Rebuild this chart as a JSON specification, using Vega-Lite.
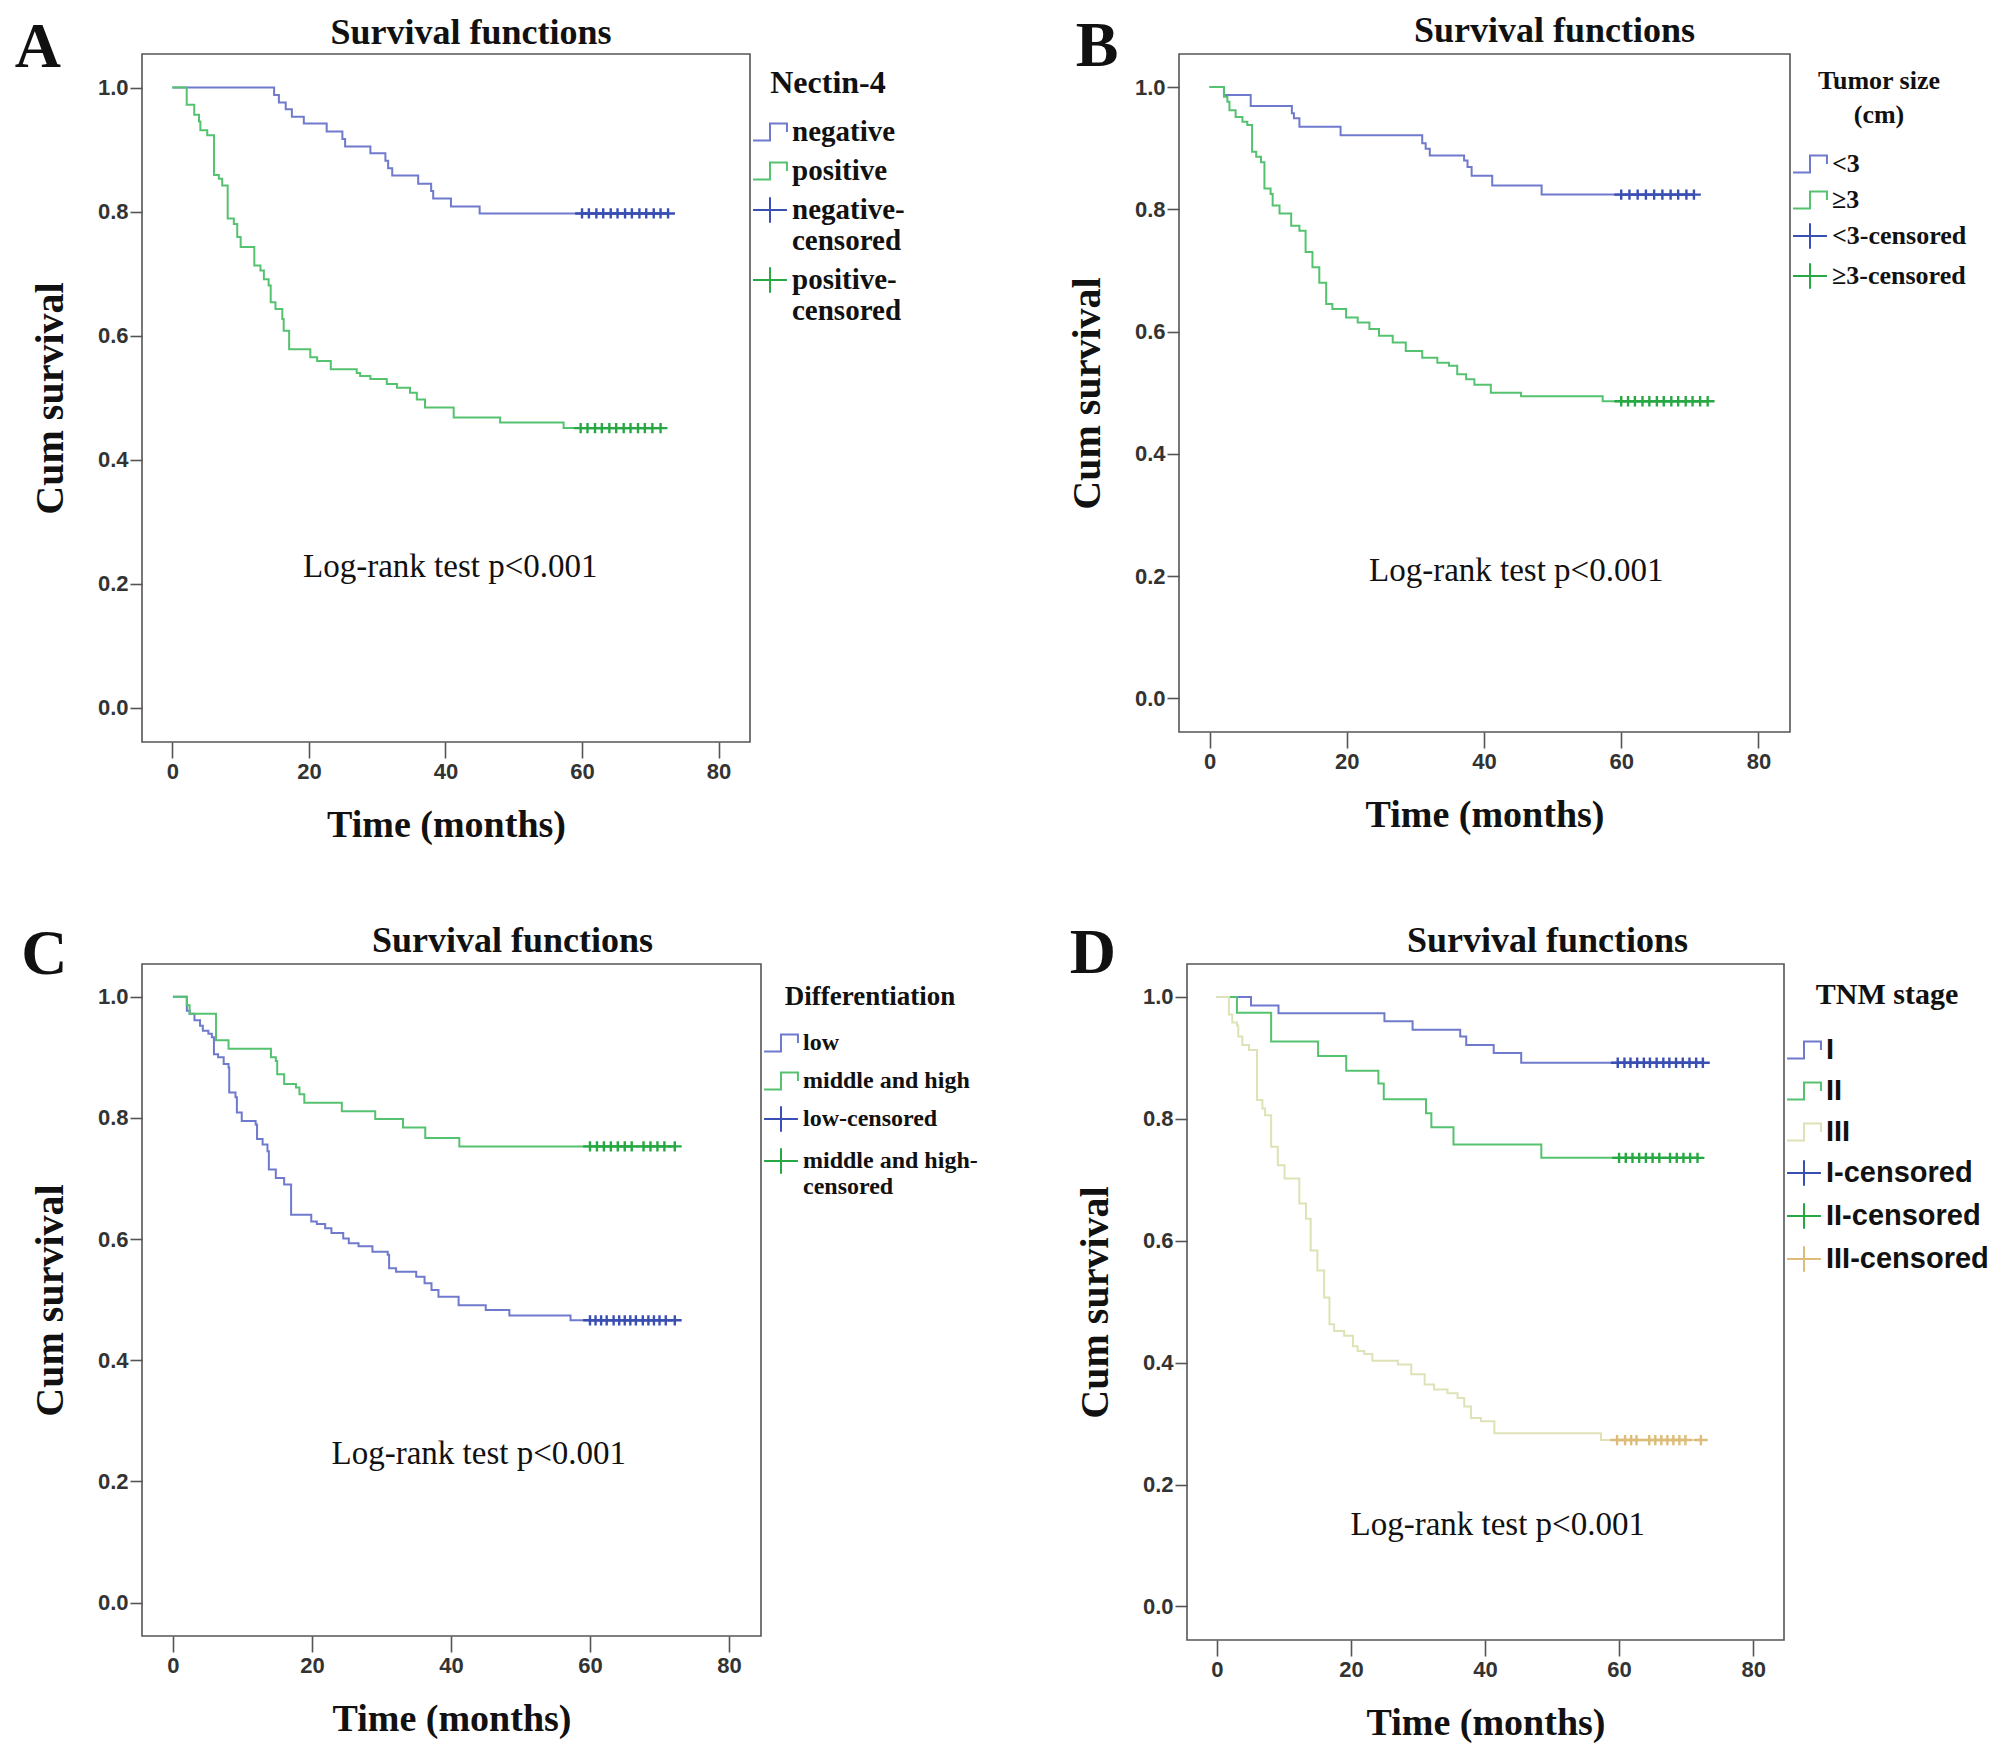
{
"$schema": "https://vega.github.io/schema/vega-lite/v6.json",
"background": "white",
"padding": {"left": 13, "top": 12, "right": 0, "bottom": 0},
"datasets": {
"A_line": [
{"t":0,"s":1,"lab":"negative"},{"t":14.9,"s":0.988,"lab":"negative"},{"t":15.6,"s":0.976,"lab":"negative"},{"t":16.6,"s":0.965,"lab":"negative"},{"t":17.5,"s":0.953,"lab":"negative"},{"t":19.25,"s":0.942,"lab":"negative"},{"t":22.6,"s":0.929,"lab":"negative"},{"t":24.9,"s":0.917,"lab":"negative"},{"t":25.3,"s":0.905,"lab":"negative"},{"t":29.0,"s":0.894,"lab":"negative"},{"t":31.2,"s":0.882,"lab":"negative"},{"t":31.6,"s":0.870,"lab":"negative"},{"t":32.2,"s":0.858,"lab":"negative"},{"t":36.0,"s":0.845,"lab":"negative"},{"t":37.9,"s":0.833,"lab":"negative"},{"t":38.2,"s":0.821,"lab":"negative"},{"t":40.8,"s":0.808,"lab":"negative"},{"t":45.0,"s":0.797,"lab":"negative"},{"t":72.6,"s":0.797,"lab":"negative"},
{"t":0,"s":1,"lab":"positive"},{"t":2.1,"s":0.972,"lab":"positive"},{"t":3.2,"s":0.956,"lab":"positive"},{"t":3.9,"s":0.945,"lab":"positive"},{"t":4.1,"s":0.931,"lab":"positive"},{"t":5.1,"s":0.923,"lab":"positive"},{"t":6.1,"s":0.859,"lab":"positive"},{"t":6.8,"s":0.853,"lab":"positive"},{"t":7.3,"s":0.842,"lab":"positive"},{"t":8.1,"s":0.789,"lab":"positive"},{"t":9.0,"s":0.780,"lab":"positive"},{"t":9.5,"s":0.759,"lab":"positive"},{"t":10.0,"s":0.743,"lab":"positive"},{"t":12.0,"s":0.713,"lab":"positive"},{"t":12.9,"s":0.705,"lab":"positive"},{"t":13.4,"s":0.691,"lab":"positive"},{"t":14.1,"s":0.681,"lab":"positive"},{"t":14.4,"s":0.654,"lab":"positive"},{"t":15.1,"s":0.643,"lab":"positive"},{"t":16.1,"s":0.627,"lab":"positive"},{"t":16.3,"s":0.608,"lab":"positive"},{"t":17.1,"s":0.578,"lab":"positive"},{"t":20.2,"s":0.565,"lab":"positive"},{"t":21.2,"s":0.559,"lab":"positive"},{"t":23.2,"s":0.546,"lab":"positive"},{"t":27.0,"s":0.540,"lab":"positive"},{"t":27.5,"s":0.535,"lab":"positive"},{"t":29.0,"s":0.530,"lab":"positive"},{"t":31.4,"s":0.522,"lab":"positive"},{"t":32.9,"s":0.516,"lab":"positive"},{"t":34.8,"s":0.508,"lab":"positive"},{"t":35.8,"s":0.497,"lab":"positive"},{"t":37.0,"s":0.484,"lab":"positive"},{"t":41.2,"s":0.468,"lab":"positive"},{"t":48.0,"s":0.460,"lab":"positive"},{"t":57.3,"s":0.451,"lab":"positive"},{"t":71.6,"s":0.451,"lab":"positive"}
],
"A_cens": [
{"t":60,"s":0.797,"lab":"negative-censored"},{"t":61,"s":0.797,"lab":"negative-censored"},{"t":62.1,"s":0.797,"lab":"negative-censored"},{"t":63.1,"s":0.797,"lab":"negative-censored"},{"t":64.2,"s":0.797,"lab":"negative-censored"},{"t":65.2,"s":0.797,"lab":"negative-censored"},{"t":66.3,"s":0.797,"lab":"negative-censored"},{"t":67.3,"s":0.797,"lab":"negative-censored"},{"t":68.4,"s":0.797,"lab":"negative-censored"},{"t":69.4,"s":0.797,"lab":"negative-censored"},{"t":70.5,"s":0.797,"lab":"negative-censored"},{"t":71.5,"s":0.797,"lab":"negative-censored"},{"t":72.6,"s":0.797,"lab":"negative-censored"},
{"t":59.8,"s":0.451,"lab":"positive-censored"},{"t":60.8,"s":0.451,"lab":"positive-censored"},{"t":61.9,"s":0.451,"lab":"positive-censored"},{"t":62.9,"s":0.451,"lab":"positive-censored"},{"t":64,"s":0.451,"lab":"positive-censored"},{"t":65,"s":0.451,"lab":"positive-censored"},{"t":66.1,"s":0.451,"lab":"positive-censored"},{"t":67.1,"s":0.451,"lab":"positive-censored"},{"t":68.2,"s":0.451,"lab":"positive-censored"},{"t":69.2,"s":0.451,"lab":"positive-censored"},{"t":70.3,"s":0.451,"lab":"positive-censored"},{"t":71.5,"s":0.451,"lab":"positive-censored"}
],
"B_line": [
{"t":0,"s":1,"lab":"<3"},{"t":2.1,"s":0.987,"lab":"<3"},{"t":6.0,"s":0.969,"lab":"<3"},{"t":12.0,"s":0.957,"lab":"<3"},{"t":12.3,"s":0.949,"lab":"<3"},{"t":13.1,"s":0.935,"lab":"<3"},{"t":19.1,"s":0.921,"lab":"<3"},{"t":31.0,"s":0.908,"lab":"<3"},{"t":31.5,"s":0.899,"lab":"<3"},{"t":32.1,"s":0.888,"lab":"<3"},{"t":37.1,"s":0.880,"lab":"<3"},{"t":37.6,"s":0.869,"lab":"<3"},{"t":38.2,"s":0.855,"lab":"<3"},{"t":41.2,"s":0.839,"lab":"<3"},{"t":48.4,"s":0.824,"lab":"<3"},{"t":70.6,"s":0.824,"lab":"<3"},
{"t":0,"s":1,"lab":"≥3"},{"t":2.1,"s":0.984,"lab":"≥3"},{"t":2.6,"s":0.976,"lab":"≥3"},{"t":2.9,"s":0.962,"lab":"≥3"},{"t":3.8,"s":0.951,"lab":"≥3"},{"t":4.8,"s":0.943,"lab":"≥3"},{"t":5.5,"s":0.938,"lab":"≥3"},{"t":6.2,"s":0.894,"lab":"≥3"},{"t":6.8,"s":0.886,"lab":"≥3"},{"t":7.5,"s":0.877,"lab":"≥3"},{"t":8.0,"s":0.834,"lab":"≥3"},{"t":8.9,"s":0.825,"lab":"≥3"},{"t":9.2,"s":0.806,"lab":"≥3"},{"t":10.2,"s":0.793,"lab":"≥3"},{"t":11.9,"s":0.773,"lab":"≥3"},{"t":13.1,"s":0.765,"lab":"≥3"},{"t":14.0,"s":0.730,"lab":"≥3"},{"t":15.0,"s":0.705,"lab":"≥3"},{"t":16.0,"s":0.680,"lab":"≥3"},{"t":17.0,"s":0.645,"lab":"≥3"},{"t":17.9,"s":0.637,"lab":"≥3"},{"t":19.9,"s":0.623,"lab":"≥3"},{"t":21.6,"s":0.615,"lab":"≥3"},{"t":23.3,"s":0.604,"lab":"≥3"},{"t":24.7,"s":0.593,"lab":"≥3"},{"t":26.7,"s":0.582,"lab":"≥3"},{"t":28.6,"s":0.568,"lab":"≥3"},{"t":31.0,"s":0.557,"lab":"≥3"},{"t":33.2,"s":0.549,"lab":"≥3"},{"t":34.9,"s":0.544,"lab":"≥3"},{"t":36.1,"s":0.530,"lab":"≥3"},{"t":37.4,"s":0.522,"lab":"≥3"},{"t":38.6,"s":0.513,"lab":"≥3"},{"t":41.0,"s":0.500,"lab":"≥3"},{"t":45.4,"s":0.494,"lab":"≥3"},{"t":57.3,"s":0.486,"lab":"≥3"},{"t":72.6,"s":0.486,"lab":"≥3"}
],
"B_cens": [
{"t":60,"s":0.824,"lab":"<3-censored"},{"t":61.2,"s":0.824,"lab":"<3-censored"},{"t":62.4,"s":0.824,"lab":"<3-censored"},{"t":63.6,"s":0.824,"lab":"<3-censored"},{"t":64.8,"s":0.824,"lab":"<3-censored"},{"t":66,"s":0.824,"lab":"<3-censored"},{"t":67.2,"s":0.824,"lab":"<3-censored"},{"t":68.3,"s":0.824,"lab":"<3-censored"},{"t":69.5,"s":0.824,"lab":"<3-censored"},{"t":70.6,"s":0.824,"lab":"<3-censored"},
{"t":60,"s":0.486,"lab":"≥3-censored"},{"t":61,"s":0.486,"lab":"≥3-censored"},{"t":62,"s":0.486,"lab":"≥3-censored"},{"t":63.1,"s":0.486,"lab":"≥3-censored"},{"t":64.1,"s":0.486,"lab":"≥3-censored"},{"t":65.2,"s":0.486,"lab":"≥3-censored"},{"t":66.2,"s":0.486,"lab":"≥3-censored"},{"t":67.3,"s":0.486,"lab":"≥3-censored"},{"t":68.3,"s":0.486,"lab":"≥3-censored"},{"t":69.4,"s":0.486,"lab":"≥3-censored"},{"t":70.4,"s":0.486,"lab":"≥3-censored"},{"t":71.5,"s":0.486,"lab":"≥3-censored"},{"t":72.6,"s":0.486,"lab":"≥3-censored"}
],
"C_line": [
{"t":0,"s":1,"lab":"low"},{"t":2.0,"s":0.977,"lab":"low"},{"t":2.4,"s":0.972,"lab":"low"},{"t":3.1,"s":0.961,"lab":"low"},{"t":3.9,"s":0.952,"lab":"low"},{"t":4.3,"s":0.944,"lab":"low"},{"t":5.1,"s":0.939,"lab":"low"},{"t":5.6,"s":0.933,"lab":"low"},{"t":5.9,"s":0.905,"lab":"low"},{"t":6.5,"s":0.900,"lab":"low"},{"t":7.3,"s":0.889,"lab":"low"},{"t":8.0,"s":0.883,"lab":"low"},{"t":8.1,"s":0.842,"lab":"low"},{"t":9.0,"s":0.834,"lab":"low"},{"t":9.2,"s":0.809,"lab":"low"},{"t":9.9,"s":0.795,"lab":"low"},{"t":11.9,"s":0.789,"lab":"low"},{"t":12.1,"s":0.765,"lab":"low"},{"t":12.9,"s":0.756,"lab":"low"},{"t":13.6,"s":0.745,"lab":"low"},{"t":13.8,"s":0.715,"lab":"low"},{"t":14.8,"s":0.701,"lab":"low"},{"t":16.0,"s":0.690,"lab":"low"},{"t":17.0,"s":0.640,"lab":"low"},{"t":19.9,"s":0.629,"lab":"low"},{"t":20.7,"s":0.625,"lab":"low"},{"t":21.9,"s":0.618,"lab":"low"},{"t":22.8,"s":0.610,"lab":"low"},{"t":24.5,"s":0.601,"lab":"low"},{"t":25.3,"s":0.593,"lab":"low"},{"t":26.7,"s":0.588,"lab":"low"},{"t":28.7,"s":0.579,"lab":"low"},{"t":30.9,"s":0.574,"lab":"low"},{"t":31.1,"s":0.552,"lab":"low"},{"t":32.1,"s":0.546,"lab":"low"},{"t":35.0,"s":0.538,"lab":"low"},{"t":36.2,"s":0.527,"lab":"low"},{"t":37.2,"s":0.516,"lab":"low"},{"t":38.2,"s":0.505,"lab":"low"},{"t":41.1,"s":0.491,"lab":"low"},{"t":45.0,"s":0.483,"lab":"low"},{"t":48.4,"s":0.474,"lab":"low"},{"t":57.2,"s":0.466,"lab":"low"},{"t":72.2,"s":0.466,"lab":"low"},
{"t":0,"s":1,"lab":"middle and high"},{"t":2.0,"s":0.986,"lab":"middle and high"},{"t":2.4,"s":0.972,"lab":"middle and high"},{"t":6.2,"s":0.928,"lab":"middle and high"},{"t":8.0,"s":0.914,"lab":"middle and high"},{"t":14.1,"s":0.900,"lab":"middle and high"},{"t":14.8,"s":0.894,"lab":"middle and high"},{"t":15.0,"s":0.872,"lab":"middle and high"},{"t":16.0,"s":0.856,"lab":"middle and high"},{"t":17.7,"s":0.850,"lab":"middle and high"},{"t":18.2,"s":0.839,"lab":"middle and high"},{"t":18.9,"s":0.825,"lab":"middle and high"},{"t":24.3,"s":0.811,"lab":"middle and high"},{"t":29.1,"s":0.798,"lab":"middle and high"},{"t":33.1,"s":0.784,"lab":"middle and high"},{"t":36.3,"s":0.767,"lab":"middle and high"},{"t":41.2,"s":0.753,"lab":"middle and high"},{"t":72.2,"s":0.753,"lab":"middle and high"}
],
"C_cens": [
{"t":60,"s":0.466,"lab":"low-censored"},{"t":60.8,"s":0.466,"lab":"low-censored"},{"t":61.6,"s":0.466,"lab":"low-censored"},{"t":62.4,"s":0.466,"lab":"low-censored"},{"t":63.4,"s":0.466,"lab":"low-censored"},{"t":64.2,"s":0.466,"lab":"low-censored"},{"t":65,"s":0.466,"lab":"low-censored"},{"t":65.8,"s":0.466,"lab":"low-censored"},{"t":66.6,"s":0.466,"lab":"low-censored"},{"t":67.6,"s":0.466,"lab":"low-censored"},{"t":68.4,"s":0.466,"lab":"low-censored"},{"t":69.2,"s":0.466,"lab":"low-censored"},{"t":70,"s":0.466,"lab":"low-censored"},{"t":70.9,"s":0.466,"lab":"low-censored"},{"t":72.2,"s":0.466,"lab":"low-censored"},
{"t":60,"s":0.753,"lab":"middle and high-censored"},{"t":61,"s":0.753,"lab":"middle and high-censored"},{"t":62,"s":0.753,"lab":"middle and high-censored"},{"t":63,"s":0.753,"lab":"middle and high-censored"},{"t":64,"s":0.753,"lab":"middle and high-censored"},{"t":65,"s":0.753,"lab":"middle and high-censored"},{"t":66,"s":0.753,"lab":"middle and high-censored"},{"t":67.7,"s":0.753,"lab":"middle and high-censored"},{"t":68.7,"s":0.753,"lab":"middle and high-censored"},{"t":69.7,"s":0.753,"lab":"middle and high-censored"},{"t":70.7,"s":0.753,"lab":"middle and high-censored"},{"t":72.2,"s":0.753,"lab":"middle and high-censored"}
],
"D_line": [
{"t":0,"s":1,"lab":"I"},{"t":5.1,"s":0.986,"lab":"I"},{"t":9.2,"s":0.973,"lab":"I"},{"t":25.0,"s":0.960,"lab":"I"},{"t":29.2,"s":0.946,"lab":"I"},{"t":36.3,"s":0.935,"lab":"I"},{"t":37.2,"s":0.921,"lab":"I"},{"t":41.3,"s":0.908,"lab":"I"},{"t":45.4,"s":0.892,"lab":"I"},{"t":72.5,"s":0.892,"lab":"I"},
{"t":0,"s":1,"lab":"II"},{"t":3.0,"s":0.974,"lab":"II"},{"t":8.1,"s":0.927,"lab":"II"},{"t":15.1,"s":0.903,"lab":"II"},{"t":19.3,"s":0.879,"lab":"II"},{"t":24.1,"s":0.858,"lab":"II"},{"t":24.9,"s":0.832,"lab":"II"},{"t":31.2,"s":0.809,"lab":"II"},{"t":32.0,"s":0.786,"lab":"II"},{"t":35.3,"s":0.758,"lab":"II"},{"t":48.4,"s":0.736,"lab":"II"},{"t":71.7,"s":0.736,"lab":"II"},
{"t":0,"s":1,"lab":"III"},{"t":1.8,"s":0.971,"lab":"III"},{"t":2.3,"s":0.958,"lab":"III"},{"t":3.0,"s":0.953,"lab":"III"},{"t":3.2,"s":0.935,"lab":"III"},{"t":3.8,"s":0.921,"lab":"III"},{"t":4.8,"s":0.913,"lab":"III"},{"t":6.0,"s":0.831,"lab":"III"},{"t":6.8,"s":0.817,"lab":"III"},{"t":7.2,"s":0.806,"lab":"III"},{"t":8.1,"s":0.754,"lab":"III"},{"t":9.1,"s":0.724,"lab":"III"},{"t":10.1,"s":0.702,"lab":"III"},{"t":12.3,"s":0.661,"lab":"III"},{"t":13.3,"s":0.636,"lab":"III"},{"t":14.0,"s":0.584,"lab":"III"},{"t":15.0,"s":0.551,"lab":"III"},{"t":16.0,"s":0.507,"lab":"III"},{"t":16.8,"s":0.463,"lab":"III"},{"t":17.5,"s":0.452,"lab":"III"},{"t":19.0,"s":0.444,"lab":"III"},{"t":20.3,"s":0.427,"lab":"III"},{"t":21.0,"s":0.419,"lab":"III"},{"t":22.0,"s":0.414,"lab":"III"},{"t":23.2,"s":0.403,"lab":"III"},{"t":27.0,"s":0.397,"lab":"III"},{"t":29.0,"s":0.381,"lab":"III"},{"t":31.0,"s":0.364,"lab":"III"},{"t":32.4,"s":0.356,"lab":"III"},{"t":34.4,"s":0.350,"lab":"III"},{"t":35.9,"s":0.342,"lab":"III"},{"t":36.9,"s":0.328,"lab":"III"},{"t":37.9,"s":0.309,"lab":"III"},{"t":39.4,"s":0.304,"lab":"III"},{"t":41.4,"s":0.284,"lab":"III"},{"t":57.3,"s":0.273,"lab":"III"},{"t":72.2,"s":0.273,"lab":"III"}
],
"D_cens": [
{"t":59.8,"s":0.892,"lab":"I-censored"},{"t":60.8,"s":0.892,"lab":"I-censored"},{"t":61.7,"s":0.892,"lab":"I-censored"},{"t":62.7,"s":0.892,"lab":"I-censored"},{"t":63.7,"s":0.892,"lab":"I-censored"},{"t":64.6,"s":0.892,"lab":"I-censored"},{"t":65.6,"s":0.892,"lab":"I-censored"},{"t":66.6,"s":0.892,"lab":"I-censored"},{"t":67.5,"s":0.892,"lab":"I-censored"},{"t":68.5,"s":0.892,"lab":"I-censored"},{"t":69.5,"s":0.892,"lab":"I-censored"},{"t":70.5,"s":0.892,"lab":"I-censored"},{"t":71.5,"s":0.892,"lab":"I-censored"},{"t":72.5,"s":0.892,"lab":"I-censored"},
{"t":60,"s":0.736,"lab":"II-censored"},{"t":61,"s":0.736,"lab":"II-censored"},{"t":62,"s":0.736,"lab":"II-censored"},{"t":63,"s":0.736,"lab":"II-censored"},{"t":64,"s":0.736,"lab":"II-censored"},{"t":65,"s":0.736,"lab":"II-censored"},{"t":66,"s":0.736,"lab":"II-censored"},{"t":67.6,"s":0.736,"lab":"II-censored"},{"t":68.6,"s":0.736,"lab":"II-censored"},{"t":69.6,"s":0.736,"lab":"II-censored"},{"t":70.6,"s":0.736,"lab":"II-censored"},{"t":71.7,"s":0.736,"lab":"II-censored"},
{"t":59.7,"s":0.273,"lab":"III-censored"},{"t":60.9,"s":0.273,"lab":"III-censored"},{"t":61.8,"s":0.273,"lab":"III-censored"},{"t":62.6,"s":0.273,"lab":"III-censored"},{"t":64.5,"s":0.273,"lab":"III-censored"},{"t":65.4,"s":0.273,"lab":"III-censored"},{"t":66.3,"s":0.273,"lab":"III-censored"},{"t":67.2,"s":0.273,"lab":"III-censored"},{"t":68.1,"s":0.273,"lab":"III-censored"},{"t":69,"s":0.273,"lab":"III-censored"},{"t":69.9,"s":0.273,"lab":"III-censored"},{"t":72.2,"s":0.273,"lab":"III-censored"}
]
},
"concat": [
{"hconcat": [
{"width": 608, "height": 688,
 "title": {"text": "Survival functions", "dx": 25, "dy": 44},
 "layer": [
  {"data": {"name": "A_line"}, "mark": {"type": "line", "interpolate": "step-after", "strokeWidth": 2},
   "encoding": {
    "x": {"field": "t", "type": "quantitative", "scale": {"domain": [-4.45, 84.6], "nice": false, "zero": false}, "axis": {"values": [0,20,40,60,80], "title": "Time (months)"}},
    "y": {"field": "s", "type": "quantitative", "scale": {"domain": [-0.055, 1.054], "nice": false, "zero": false}, "axis": {"values": [0,0.2,0.4,0.6,0.8,1], "format": ".1f", "title": "Cum survival"}},
    "color": {"field": "lab", "type": "nominal", "scale": {"domain": ["negative","positive","negative-censored","positive-censored"], "range": ["#6f7acc","#55c270","#3a4fb2","#28a844"]},
      "legend": {"title": "Nectin-4", "titleFontSize": 32, "labelFontSize": 29, "rowPadding": 6, "labelExpr": "datum.label == 'negative-censored' ? ['negative-','censored'] : datum.label == 'positive-censored' ? ['positive-','censored'] : datum.label"}}
   }},
  {"data": {"name": "A_cens"}, "mark": {"type": "point", "filled": false, "size": 190, "strokeWidth": 2.4, "opacity": 1},
   "encoding": {
    "x": {"field": "t", "type": "quantitative"},
    "y": {"field": "s", "type": "quantitative"},
    "color": {"field": "lab", "type": "nominal"},
    "shape": {"field": "lab", "type": "nominal", "scale": {"domain": ["negative","positive","negative-censored","positive-censored"], "range": ["M-1,0.5H0V-0.5H1V0","M-1,0.5H0V-0.5H1V0","M-1,0H1M0,-0.75V0.75","M-1,0H1M0,-0.75V0.75"]},
      "legend": {"title": "Nectin-4", "titleFontSize": 32, "labelFontSize": 29, "rowPadding": 6, "labelExpr": "datum.label == 'negative-censored' ? ['negative-','censored'] : datum.label == 'positive-censored' ? ['positive-','censored'] : datum.label"}}
   }},
  {"data": {"values": [{"note": "Log-rank test p<0.001"}]}, "mark": {"type": "text", "font": "Liberation Serif", "fontSize": 33, "color": "#111"},
   "encoding": {"x": {"datum": 40.7}, "y": {"datum": 0.227}, "text": {"field": "note"}}},
  {"data": {"values": [{"letter": "A"}]}, "mark": {"type": "text", "font": "Liberation Serif", "fontSize": 64, "fontWeight": "bold", "color": "#111"},
   "encoding": {"x": {"datum": -19.7}, "y": {"datum": 1.063}, "text": {"field": "letter"}}}
 ]},
{"width": 611, "height": 678,
 "title": {"text": "Survival functions", "dx": 70, "dy": 43},
 "layer": [
  {"data": {"name": "B_line"}, "mark": {"type": "line", "interpolate": "step-after", "strokeWidth": 2},
   "encoding": {
    "x": {"field": "t", "type": "quantitative", "scale": {"domain": [-4.45, 84.6], "nice": false, "zero": false}, "axis": {"values": [0,20,40,60,80], "title": "Time (months)"}},
    "y": {"field": "s", "type": "quantitative", "scale": {"domain": [-0.055, 1.054], "nice": false, "zero": false}, "axis": {"values": [0,0.2,0.4,0.6,0.8,1], "format": ".1f", "title": "Cum survival"}},
    "color": {"field": "lab", "type": "nominal", "scale": {"domain": ["<3","≥3","<3-censored","≥3-censored"], "range": ["#6f7acc","#55c270","#3a4fb2","#28a844"]},
      "legend": {"title": ["Tumor size", "(cm)"], "titleFontSize": 26, "titleLineHeight": 34, "labelFontSize": 26, "rowPadding": 5, "titlePadding": 18}}
   }},
  {"data": {"name": "B_cens"}, "mark": {"type": "point", "filled": false, "size": 190, "strokeWidth": 2.4, "opacity": 1},
   "encoding": {
    "x": {"field": "t", "type": "quantitative"},
    "y": {"field": "s", "type": "quantitative"},
    "color": {"field": "lab", "type": "nominal"},
    "shape": {"field": "lab", "type": "nominal", "scale": {"domain": ["<3","≥3","<3-censored","≥3-censored"], "range": ["M-1,0.5H0V-0.5H1V0","M-1,0.5H0V-0.5H1V0","M-1,0H1M0,-0.75V0.75","M-1,0H1M0,-0.75V0.75"]},
      "legend": {"title": ["Tumor size", "(cm)"], "titleFontSize": 26, "titleLineHeight": 34, "labelFontSize": 26, "rowPadding": 5, "titlePadding": 18}}
   }},
  {"data": {"values": [{"note": "Log-rank test p<0.001"}]}, "mark": {"type": "text", "font": "Liberation Serif", "fontSize": 33, "color": "#111"},
   "encoding": {"x": {"datum": 44.7}, "y": {"datum": 0.209}, "text": {"field": "note"}}},
  {"data": {"values": [{"letter": "B"}]}, "mark": {"type": "text", "font": "Liberation Serif", "fontSize": 64, "fontWeight": "bold", "color": "#111"},
   "encoding": {"x": {"datum": -16.4}, "y": {"datum": 1.065}, "text": {"field": "letter"}}}
 ]}
], "spacing": 146,
 "resolve": {"scale": {"x": "independent", "y": "independent", "color": "independent", "shape": "independent"}, "axis": {"x": "independent", "y": "independent"}, "legend": {"color": "independent", "shape": "independent"}}},
{"hconcat": [
{"width": 619, "height": 672,
 "title": {"text": "Survival functions", "dx": 61, "dy": 45},
 "layer": [
  {"data": {"name": "C_line"}, "mark": {"type": "line", "interpolate": "step-after", "strokeWidth": 2},
   "encoding": {
    "x": {"field": "t", "type": "quantitative", "scale": {"domain": [-4.45, 84.6], "nice": false, "zero": false}, "axis": {"values": [0,20,40,60,80], "title": "Time (months)"}},
    "y": {"field": "s", "type": "quantitative", "scale": {"domain": [-0.055, 1.054], "nice": false, "zero": false}, "axis": {"values": [0,0.2,0.4,0.6,0.8,1], "format": ".1f", "title": "Cum survival"}},
    "color": {"field": "lab", "type": "nominal", "scale": {"domain": ["low","middle and high","low-censored","middle and high-censored"], "range": ["#6f7acc","#55c270","#3a4fb2","#28a844"]},
      "legend": {"title": "Differentiation", "titleFontSize": 27, "labelFontSize": 24, "rowPadding": 7, "padding": 20, "offset": -18, "labelExpr": "datum.label == 'middle and high-censored' ? ['middle and high-','censored'] : datum.label"}}
   }},
  {"data": {"name": "C_cens"}, "mark": {"type": "point", "filled": false, "size": 190, "strokeWidth": 2.4, "opacity": 1},
   "encoding": {
    "x": {"field": "t", "type": "quantitative"},
    "y": {"field": "s", "type": "quantitative"},
    "color": {"field": "lab", "type": "nominal"},
    "shape": {"field": "lab", "type": "nominal", "scale": {"domain": ["low","middle and high","low-censored","middle and high-censored"], "range": ["M-1,0.5H0V-0.5H1V0","M-1,0.5H0V-0.5H1V0","M-1,0H1M0,-0.75V0.75","M-1,0H1M0,-0.75V0.75"]},
      "legend": {"title": "Differentiation", "titleFontSize": 27, "labelFontSize": 24, "rowPadding": 7, "padding": 20, "offset": -18, "labelExpr": "datum.label == 'middle and high-censored' ? ['middle and high-','censored'] : datum.label"}}
   }},
  {"data": {"values": [{"note": "Log-rank test p<0.001"}]}, "mark": {"type": "text", "font": "Liberation Serif", "fontSize": 33, "color": "#111"},
   "encoding": {"x": {"datum": 44.0}, "y": {"datum": 0.245}, "text": {"field": "note"}}},
  {"data": {"values": [{"letter": "C"}]}, "mark": {"type": "text", "font": "Liberation Serif", "fontSize": 64, "fontWeight": "bold", "color": "#111"},
   "encoding": {"x": {"datum": -18.5}, "y": {"datum": 1.069}, "text": {"field": "letter"}}}
 ]},
{"width": 597, "height": 676,
 "title": {"text": "Survival functions", "dx": 62, "dy": 46},
 "layer": [
  {"data": {"name": "D_line"}, "mark": {"type": "line", "interpolate": "step-after", "strokeWidth": 2},
   "encoding": {
    "x": {"field": "t", "type": "quantitative", "scale": {"domain": [-4.45, 84.6], "nice": false, "zero": false}, "axis": {"values": [0,20,40,60,80], "title": "Time (months)"}},
    "y": {"field": "s", "type": "quantitative", "scale": {"domain": [-0.055, 1.054], "nice": false, "zero": false}, "axis": {"values": [0,0.2,0.4,0.6,0.8,1], "format": ".1f", "title": "Cum survival"}},
    "color": {"field": "lab", "type": "nominal", "scale": {"domain": ["I","II","III","I-censored","II-censored","III-censored"], "range": ["#6f7acc","#55c270","#dfe2b6","#3a4fb2","#28a844","#dcbc78"]},
      "legend": {"title": "TNM stage", "titleFontSize": 30, "labelFontSize": 29, "labelFont": "Liberation Sans", "rowPadding": 8, "titlePadding": 22, "padding": 16, "offset": -14}}
   }},
  {"data": {"name": "D_cens"}, "mark": {"type": "point", "filled": false, "size": 190, "strokeWidth": 2.4, "opacity": 1},
   "encoding": {
    "x": {"field": "t", "type": "quantitative"},
    "y": {"field": "s", "type": "quantitative"},
    "color": {"field": "lab", "type": "nominal"},
    "shape": {"field": "lab", "type": "nominal", "scale": {"domain": ["I","II","III","I-censored","II-censored","III-censored"], "range": ["M-1,0.5H0V-0.5H1V0","M-1,0.5H0V-0.5H1V0","M-1,0.5H0V-0.5H1V0","M-1,0H1M0,-0.75V0.75","M-1,0H1M0,-0.75V0.75","M-1,0H1M0,-0.75V0.75"]},
      "legend": {"title": "TNM stage", "titleFontSize": 30, "labelFontSize": 29, "labelFont": "Liberation Sans", "rowPadding": 8, "titlePadding": 22, "padding": 16, "offset": -14}}
   }},
  {"data": {"values": [{"note": "Log-rank test p<0.001"}]}, "mark": {"type": "text", "font": "Liberation Serif", "fontSize": 33, "color": "#111"},
   "encoding": {"x": {"datum": 41.9}, "y": {"datum": 0.133}, "text": {"field": "note"}}},
  {"data": {"values": [{"letter": "D"}]}, "mark": {"type": "text", "font": "Liberation Serif", "fontSize": 64, "fontWeight": "bold", "color": "#111"},
   "encoding": {"x": {"datum": -18.5}, "y": {"datum": 1.070}, "text": {"field": "letter"}}}
 ]}
], "spacing": 69,
 "resolve": {"scale": {"x": "independent", "y": "independent", "color": "independent", "shape": "independent"}, "axis": {"x": "independent", "y": "independent"}, "legend": {"color": "independent", "shape": "independent"}}}
],
"columns": 1,
"align": "none",
"spacing": 76,
"resolve": {"scale": {"x": "independent", "y": "independent", "color": "independent", "shape": "independent"}, "axis": {"x": "independent", "y": "independent"}, "legend": {"color": "independent", "shape": "independent"}},
"config": {
 "view": {"stroke": "#555555", "strokeWidth": 1.6},
 "axis": {"domain": false, "grid": false, "tickColor": "#555555", "tickWidth": 1.6,
   "labelFont": "Liberation Sans", "labelFontWeight": "bold", "labelFontSize": 22, "labelColor": "#333333",
   "titleFont": "Liberation Serif", "titleFontWeight": "bold", "titleColor": "#111111"},
 "axisY": {"tickSize": 12, "labelPadding": 2, "titleFontSize": 40, "titlePadding": 27},
 "axisX": {"tickSize": 16, "labelPadding": 3, "titleFontSize": 38, "titlePadding": 24},
 "title": {"font": "Liberation Serif", "fontSize": 36, "fontWeight": "bold", "color": "#111111", "offset": 8, "frame": "group"},
 "legend": {"orient": "right", "offset": -12, "padding": 14, "titleFont": "Liberation Serif", "titleFontWeight": "bold", "titleColor": "#111111",
   "titleAnchor": "middle", "titleAlign": "center", "titlePadding": 14, "labelFont": "Liberation Serif", "labelFontWeight": "bold", "labelColor": "#111111",
   "labelLimit": 0, "labelOffset": 4, "symbolSize": 1150, "symbolStrokeWidth": 2, "rowPadding": 2, "symbolFillColor": "transparent"}
}
}
